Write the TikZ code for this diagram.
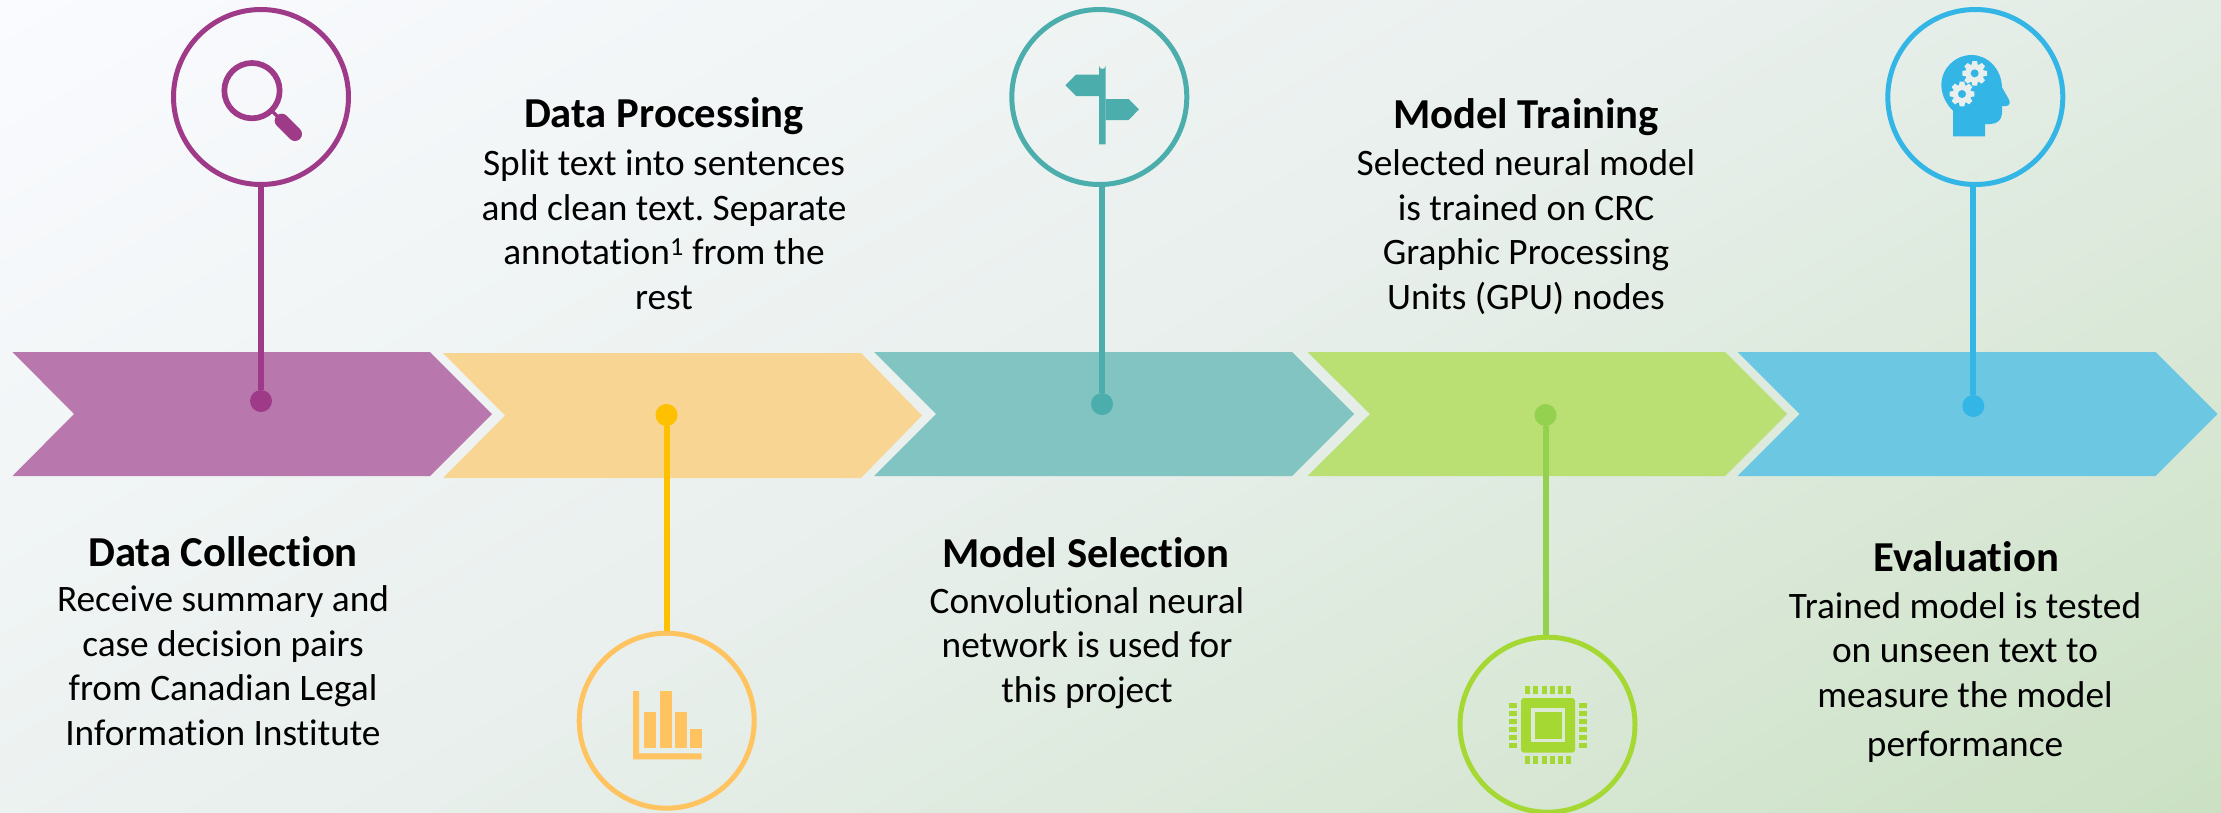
\documentclass[tikz,border=0pt]{standalone}
\usepackage{fontspec}
\setmainfont[Ligatures=NoCommon]{Carlito}
\frenchspacing
\definecolor{bgA}{HTML}{FAFBFF}
\definecolor{bgM}{HTML}{E8EFEC}
\definecolor{bgB}{HTML}{CBE1C3}
\definecolor{purpleD}{HTML}{9E3A87}
\definecolor{purpleL}{HTML}{B978AD}
\definecolor{orangeD}{HTML}{FFC000}
\definecolor{orangeC}{HTML}{FFC35F}
\definecolor{orangeL}{HTML}{F8D592}
\definecolor{tealD}{HTML}{4BAEAC}
\definecolor{tealL}{HTML}{81C4C2}
\definecolor{greenD}{HTML}{94D14E}
\definecolor{greenC}{HTML}{A5D833}
\definecolor{greenL}{HTML}{BAE074}
\definecolor{blueD}{HTML}{33B6E6}
\definecolor{blueL}{HTML}{6CC7E2}
\definecolor{chipW}{HTML}{DCE9D6}
\pgfdeclarehorizontalshading{bgshade}{100bp}{color(0bp)=(bgA); color(31.1bp)=(bgA); color(50bp)=(bgM); color(68.9bp)=(bgB); color(100bp)=(bgB)}
\newcommand{\headingfont}{\fontsize{42.67}{50}\selectfont\bfseries}
\newcommand{\bodyfont}{\fontsize{37.33}{44.5}\selectfont}
\tikzset{
  ringnode/.style={circle,draw=#1,line width=5pt,minimum size=175pt,inner sep=0pt,fill=none},
  dotnode/.style={circle,fill=#1,minimum size=22pt,inner sep=0pt},
  stem/.style={draw=#1,line width=6pt},
  headingtext/.style={anchor=base,inner sep=0pt,font=\headingfont,text=black},
  bodytext/.style={anchor=base,inner sep=0pt,font=\bodyfont,text=black,align=center},
  iconscope/.style={x=.33333pt,y=-.33333pt}
}
\newcommand{\chevron}[8]{%
  % colour, left, notch, shoulder, tip, top, mid, bottom
  \fill[#1] (#2,#6) -- (#4,#6) -- (#5,#7) -- (#4,#8) -- (#2,#8) -- (#3,#7) -- cycle;}
\newcommand{\gearicon}[2]{%
  \foreach \ang in {0,45,...,315}{
    \fill[bgM,rotate around={\ang:(#1,#2)}] (#1-7,#2-37) -- (#1+7,#2-37) -- (#1+10,#2-22) -- (#1-10,#2-22) -- cycle;}
  \fill[bgM] (#1,#2) circle[radius=28];
  \fill[blueD] (#1,#2) circle[radius=12];}
\begin{document}
\begin{tikzpicture}[x=1pt,y=-1pt]
\useasboundingbox (0,0) rectangle (2221,812);
\begin{scope}
  \clip (0,0) rectangle (2221,812);
  \begin{scope}[transform canvas={rotate around={-60:(1110.5,406)}}]
    \shade[shading=bgshade] (-89.5,-794) rectangle (2310.5,1606);
  \end{scope}
\end{scope}
% chevrons
\chevron{purpleL}{12.5}{74}{430}{492}{352}{414}{476}
\chevron{orangeL}{443}{505}{861}{922}{353}{415.5}{478}
\chevron{tealL}{874}{936}{1292}{1354}{352}{414}{476}
\chevron{greenL}{1307.5}{1370}{1725}{1787}{352}{414}{476}
\chevron{blueL}{1737.5}{1799.5}{2155.5}{2217.5}{352}{414}{476}
% rings and dots
\node[ringnode=purpleD] (c1) at (261,97) {};
\node[ringnode=orangeC] (c2) at (666.7,720.7) {};
\node[ringnode=tealD] (c3) at (1099.3,97) {};
\node[ringnode=greenC] (c4) at (1547.5,724.7) {};
\node[ringnode=blueD] (c5) at (1975.3,97) {};
\node[dotnode=purpleD] (d1) at (261,401) {};
\node[dotnode=orangeD] (d2) at (666.5,415) {};
\node[dotnode=tealD] (d3) at (1102,404) {};
\node[dotnode=greenD] (d4) at (1545.5,415) {};
\node[dotnode=blueD] (d5) at (1973.3,406) {};
\draw[stem=purpleD] (d1) -- (d1 |- c1.south);
\draw[stem=orangeD] (d2) -- (d2 |- c2.north);
\draw[stem=tealD] (d3) -- (d3 |- c3.south);
\draw[stem=greenD] (d4) -- (d4 |- c4.north);
\draw[stem=blueD] (d5) -- (d5 |- c5.south);
% magnifier
\begin{scope}[shift={(150,0)},iconscope]
  \draw[purpleD,line width=5.7pt] (306,272) circle[radius=83];
  \draw[purpleD,line width=3.5pt] (368,335) -- (395,362);
  \draw[purpleD,line width=14pt,line cap=round] (395,362) -- (435,402);
\end{scope}
% bar chart
\begin{scope}[shift={(560,640)},iconscope]
  \fill[orangeC] (219,153) -- (237,153) -- (237,340) -- (425,340) -- (425,358) -- (219,358) -- cycle;
  \fill[orangeC] (252,216) rectangle (288,324);
  \fill[orangeC] (300,153) rectangle (336,324);
  \fill[orangeC] (345,216) rectangle (381,324);
  \fill[orangeC] (390,267) rectangle (426,324);
\end{scope}
% signpost
\begin{scope}[shift={(990,0)},iconscope]
  \fill[tealD] (327,433) -- (327,197) arc[start angle=180,end angle=0,radius=10] -- (347,433) -- cycle;
  \fill[tealD] (226,256) -- (258,224) -- (327,224) -- (327,288) -- (258,288) -- cycle;
  \fill[tealD] (347,297) -- (416,297) -- (447,328) -- (416,360) -- (347,360) -- cycle;
\end{scope}
% chip
\begin{scope}[shift={(1440,630)},iconscope]
  \fill[greenC,rounded corners=3pt] (243,204) rectangle (405,368);
  \fill[chipW] (273,234) rectangle (375,337);
  \fill[greenC] (285,246) rectangle (366,327);
  \foreach \px in {255,279,306,330,354,378}{
    \fill[greenC] (\px,168) rectangle (\px+15,192);
    \fill[greenC] (\px,378) rectangle (\px+15,402);}
  \foreach \py in {219,243,267,291,315,339}{
    \fill[greenC] (207,\py) rectangle (231,\py+15);
    \fill[greenC] (417,\py) rectangle (441,\py+15);}
\end{scope}
% head with gears
\begin{scope}[shift={(1870,0)},iconscope]
  \fill[blueD] (249,409) -- (345,409) -- (345,372) -- (362,372)
    .. controls (382,372) and (396,358) .. (396,340) -- (396,318) -- (408,318)
    .. controls (418,318) and (422,308) .. (417,299) -- (396,262)
    .. controls (394,205) and (352,165) .. (305,165)
    .. controls (255,165) and (214,205) .. (214,255)
    .. controls (214,285) and (230,315) .. (249,332) -- cycle;
  \gearicon{314}{220}
  \gearicon{276}{282}
\end{scope}
% texts
\node[headingtext] (h1) at (223,566) {Data Collection};
\node[bodytext] (b1) at (223,745) {Receive summary and\\case decision pairs\\from Canadian Legal\\Information Institute};
\node[headingtext] (h2) at (664,127.7) {Data Processing};
\node[bodytext] (b2) at (664,309) {Split text into sentences\\and clean text. Separate\\annotation\textsuperscript{1} from the\\rest};
\node[headingtext] (h3) at (1086,567) {Model Selection};
\node[bodytext] (b3) at (1087,702) {Convolutional neural\\network is used for\\this project};
\node[headingtext] (h4) at (1526,128) {Model Training};
\node[bodytext] (b4) at (1526,309) {Selected neural model\\is trained on CRC\\Graphic Processing\\Units (GPU) nodes};
\node[headingtext] (h5) at (1966,571.7) {Evaluation};
\node[bodytext] (b5) at (1965,756) {Trained model is tested\\on unseen text to\\measure the model\\[4.5pt]performance};
\end{tikzpicture}
\end{document}
